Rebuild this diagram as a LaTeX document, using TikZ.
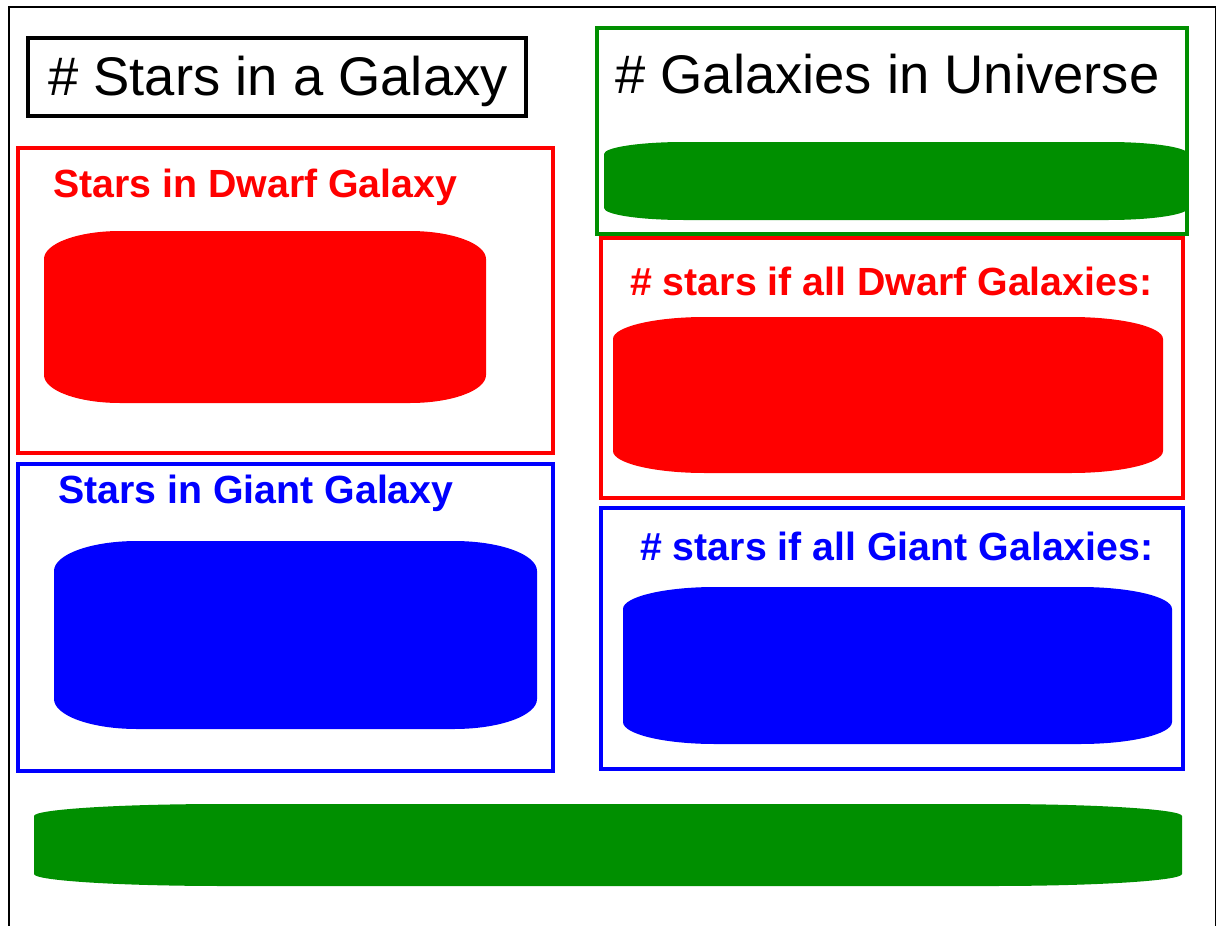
\documentclass[tikz,border=0pt]{standalone}
\usepackage{fontspec}
\setmainfont{Liberation Sans}
\definecolor{galgreen}{RGB}{0,143,0}
% filled bar with flat elliptic corners: colour, x1, y1, x2, y2, rx, ry
\newcommand{\blob}[7]{%
  \fill[#1] (#2+#6,-#3) -- (#4-#6,-#3)
    arc[start angle=90, end angle=0, x radius=#6, y radius=#7] -- (#4,-#5+#7)
    arc[start angle=0, end angle=-90, x radius=#6, y radius=#7] -- (#2+#6,-#5)
    arc[start angle=270, end angle=180, x radius=#6, y radius=#7] -- (#2,-#3-#7)
    arc[start angle=180, end angle=90, x radius=#6, y radius=#7] -- cycle;}

\begin{document}
\begin{tikzpicture}[x=1pt, y=1pt,
    panel/.style={draw, line width=3.2pt, inner sep=0pt},
    head/.style={anchor=base west, inner sep=0pt, font=\fontsize{54.4}{60}\selectfont},
    sub/.style={anchor=base west, inner sep=0pt, font=\bfseries\fontsize{39.3}{44}\selectfont}]
    \useasboundingbox (0,0) rectangle (1216,-926);
    \node[draw, line width=2pt, inner sep=0pt, minimum width=1207pt, minimum height=960pt, anchor=north west] (frame) at (8,-6) {};

    \node[panel, line width=3.6pt, minimum width=498pt, minimum height=78pt] (starsbox) at (277,-77) {};
    \node[head] (stars) at (48,-95) {\# Stars in a Galaxy};

    \node[panel, galgreen, line width=3.6pt, minimum width=590pt, minimum height=206pt] (galbox) at (892,-131) {};
    \node[head] (gals) at (615,-93) {\# Galaxies in Universe};
    \blob{galgreen}{604}{142}{1188}{220}{80}{12}

    \node[panel, red, minimum width=535pt, minimum height=305pt] (dwarfbox) at (285.5,-300.5) {};
    \node[sub, red] (dwarf) at (53,-197) {Stars in Dwarf Galaxy};
    \blob{red}{44}{231}{486}{403}{76}{28}

    \node[panel, blue, minimum width=535pt, minimum height=307pt] (giantbox) at (285.5,-617.5) {};
    \node[sub, blue] (giant) at (58,-503) {Stars in Giant Galaxy};
    \blob{blue}{54}{541}{537}{729}{83}{30}

    \node[panel, red, minimum width=582pt, minimum height=260pt] (alldwarfbox) at (892,-368) {};
    \node[sub, red] (alldwarf) at (630,-295) {\# stars if all Dwarf Galaxies:};
    \blob{red}{613}{317}{1163}{473}{92}{22}

    \node[panel, blue, minimum width=582pt, minimum height=261pt] (allgiantbox) at (892,-638.5) {};
    \node[sub, blue] (allgiant) at (640,-560) {\# stars if all Giant Galaxies:};
    \blob{blue}{623}{587}{1172}{744}{92}{22}

    \blob{galgreen}{34}{804}{1182}{886}{190}{12}
\end{tikzpicture}
\end{document}
